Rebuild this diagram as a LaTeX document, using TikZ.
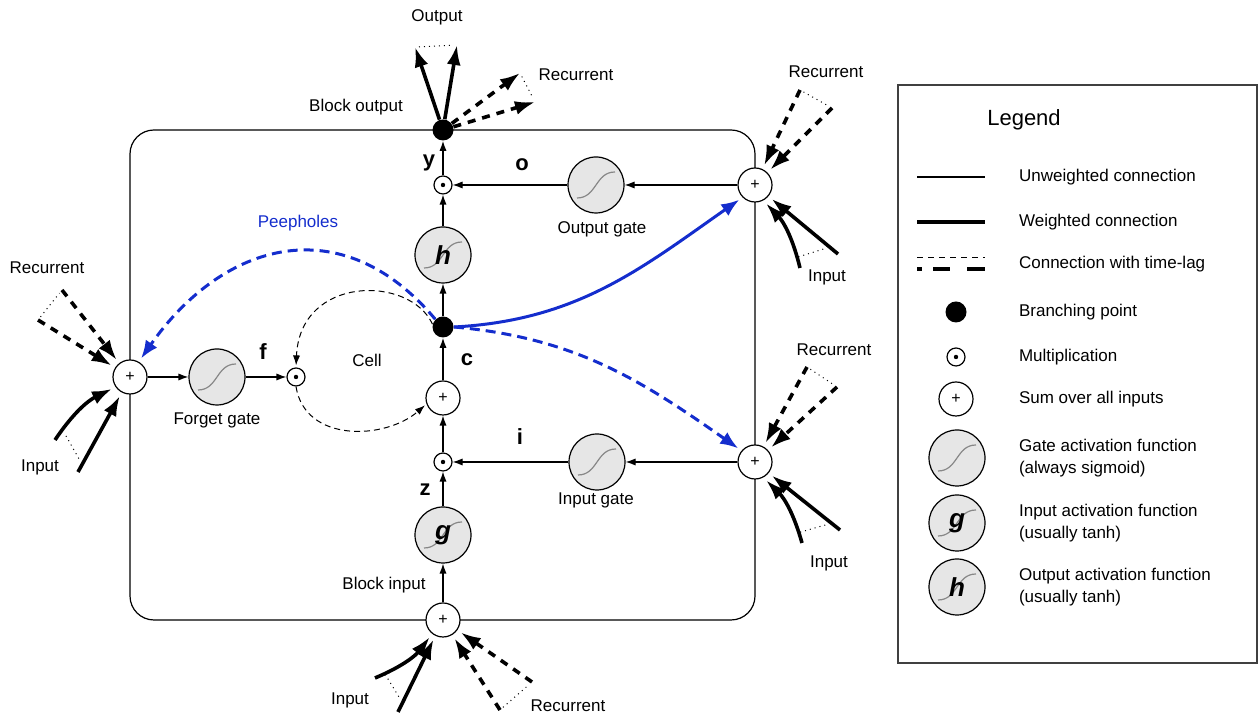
\documentclass[tikz,border=0pt]{standalone}
\usepackage{fontspec}
\setmainfont{Liberation Sans}
\usepackage{tikz}
\usetikzlibrary{arrows.meta,calc,positioning}
\definecolor{peepblue}{RGB}{20, 45, 205}
\definecolor{gatefill}{RGB}{230, 230, 230}
\definecolor{sigmagray}{RGB}{135, 135, 135}

\begin{document}
\begin{tikzpicture}[x=0.5pt, y=0.5pt, >={Latex[length=5pt,width=3.6pt]},
    txt/.style={font=\fontsize{8.5}{11}\selectfont},
    var/.style={font=\fontsize{11}{12}\selectfont\bfseries},
    sumnode/.style={circle, draw, fill=white, minimum size=17pt, inner sep=0pt, line width=0.6pt, font=\fontsize{8}{8}\selectfont},
    multnode/.style={circle, draw, fill=white, minimum size=9pt, inner sep=0pt, line width=0.6pt,
        path picture={\fill[black] (path picture bounding box.center) circle (1.1pt);}},
    branchnode/.style={circle, fill=black, minimum size=10.5pt, inner sep=0pt},
    gatenode/.style={circle, draw, fill=gatefill, minimum size=28pt, inner sep=0pt, line width=0.6pt,
        font=\fontsize{13}{13}\selectfont\bfseries\itshape,
        path picture={\draw[sigmagray, line width=0.6pt] ([shift={(-9.5pt,-6.5pt)}]path picture bounding box.center)
            .. controls +(10pt,0pt) and +(-10pt,0pt) .. ([shift={(9.5pt,6.5pt)}]path picture bounding box.center);}},
    conn/.style={->, line width=0.6pt},
    weighted/.style={-{Latex[length=10pt,width=7pt]}, line width=1.8pt, shorten >=2pt},
    recur/.style={weighted, dash pattern=on 4pt off 3.5pt},
    lagdots/.style={dotted, line width=0.5pt, shorten <=2pt, shorten >=2pt},
    cellloop/.style={->, line width=0.5pt, dash pattern=on 3pt off 2pt, shorten >=1pt},
    peep/.style={-{Latex[length=9pt,width=7pt]}, line width=1.5pt, color=peepblue, shorten >=2pt},
    peepdash/.style={peep, dash pattern=on 5pt off 3pt}]

    \useasboundingbox (0,0) rectangle (1258,715);

    % Memory block
    \draw[line width=0.6pt, rounded corners=12pt] (130,95) rectangle (755,585);

    % Central column
    \node[branchnode] (bo) at (443,585) {};
    \node[multnode] (ym) at (443,530) {};
    \node[gatenode] (hg) at (443,460) {h};
    \node[branchnode] (cb) at (443,388) {};
    \node[sumnode] (cs) at (443,317) {+};
    \node[multnode] (im) at (443,253) {};
    \node[gatenode] (gg) at (443,180) {g};
    \node[sumnode] (bs) at (443,95) {+};

    % Gates
    \node[gatenode] (og) at (596,530) {};
    \node[sumnode] (rs1) at (755,530) {+};
    \node[gatenode] (ig) at (597,253) {};
    \node[sumnode] (rs2) at (755,253) {+};
    \node[sumnode] (ls) at (130,338) {+};
    \node[gatenode] (fg) at (217,338) {};
    \node[multnode] (fm) at (296,338) {};

    % Labels
    \node[txt] (outlab) at (437,698) {Output};
    \node[txt] (bolab) at (356,608) {Block output};
    \node[txt] (recTlab) at (576,640) {Recurrent};
    \node[var] (ylab) at (429,552) {y};
    \node[var] (olab) at (522,550) {o};
    \node[txt] (oglab) at (602,486) {Output gate};
    \node[txt, text=peepblue] (peeplab) at (298,492) {Peepholes};
    \node[txt] (recLlab) at (47,447) {Recurrent};
    \node[txt] (inLlab) at (40,248) {Input};
    \node[var] (flab) at (263,363) {f};
    \node[txt] (celllab) at (367,355) {Cell};
    \node[var] (clab) at (467,355) {c};
    \node[txt] (fglab) at (217,295) {Forget gate};
    \node[var] (ilab) at (520,278) {i};
    \node[var] (zlab) at (425,225) {z};
    \node[txt] (iglab) at (596,215) {Input gate};
    \node[txt] (bilab) at (384,130) {Block input};
    \node[txt] (recR1lab) at (826,643) {Recurrent};
    \node[txt] (inR1lab) at (827,438) {Input};
    \node[txt] (recR2lab) at (834,365) {Recurrent};
    \node[txt] (inR2lab) at (829,152) {Input};
    \node[txt] (inBlab) at (350,15) {Input};
    \node[txt] (recBlab) at (568,9) {Recurrent};

    % Unweighted connections
    \draw[conn] (bs) -- (gg);
    \draw[conn] (gg) -- (im);
    \draw[conn] (im) -- (cs);
    \draw[conn] (cs) -- (cb);
    \draw[conn] (cb) -- (hg);
    \draw[conn] (hg) -- (ym);
    \draw[conn] (ym) -- (bo);
    \draw[conn] (rs1) -- (og);
    \draw[conn] (og) -- (ym);
    \draw[conn] (rs2) -- (ig);
    \draw[conn] (ig) -- (im);
    \draw[conn] (ls) -- (fg);
    \draw[conn] (fg) -- (fm);

    % Cell recurrence
    \draw[cellloop] (cb.165) .. controls (410,440) and (300,440) .. (fm.north);
    \draw[cellloop] (fm.south) .. controls (305,272) and (385,275) .. (cs.200);

    % Peepholes
    \draw[peep] (cb.east) to[out=3, in=215] (rs1.225);
    \draw[peepdash] (cb.east) to[out=-5, in=145] (rs2.140);
    \draw[peepdash] (cb.135) to[out=130, in=55, looseness=1.25] (ls.60);

    % Block output
    \coordinate (outL) at (415,668);
    \coordinate (outR) at (457,670);
    \draw[weighted, shorten >=0pt] (bo) -- (outL);
    \draw[weighted, shorten >=0pt] (bo) -- (outR);
    \draw[lagdots] (outL) -- (outR);
    \coordinate (recT1) at (520,642);
    \coordinate (recT2) at (535,613);
    \draw[recur, shorten >=0pt] (bo) -- (recT1);
    \draw[recur, shorten >=0pt] (bo) -- (recT2);
    \draw[lagdots] (recT1) -- (recT2);

    % Forget gate inputs
    \coordinate (lsR1) at (38,395);
    \coordinate (lsR2) at (62,425);
    \draw[recur] (lsR1) -- (ls.148);
    \draw[recur] (lsR2) -- (ls.128);
    \draw[lagdots] (lsR1) -- (lsR2);
    \coordinate (lsI1) at (55,275);
    \coordinate (lsI2) at (78,243);
    \draw[weighted] (lsI1) to[bend left=15] (ls.215);
    \draw[weighted] (lsI2) -- (ls.242);
    \draw[lagdots] ($(lsI1)!0.12!(ls)$) -- ($(lsI2)!0.08!(ls)$);

    % Output gate inputs
    \coordinate (r1R1) at (800,625);
    \coordinate (r1R2) at (832,607);
    \draw[recur] (r1R1) -- (rs1.65);
    \draw[recur] (r1R2) -- (rs1.45);
    \draw[lagdots] (r1R1) -- (r1R2);
    \coordinate (r1I1) at (800,447);
    \coordinate (r1I2) at (838,461);
    \draw[weighted] (r1I1) to[bend right=15] (rs1.-62);
    \draw[weighted] (r1I2) -- (rs1.-40);
    \draw[lagdots] ($(r1I1)!0.12!(rs1)$) -- ($(r1I2)!0.1!(rs1)$);

    % Input gate inputs
    \coordinate (r2R1) at (807,348);
    \coordinate (r2R2) at (837,328);
    \draw[recur] (r2R1) -- (rs2.61);
    \draw[recur] (r2R2) -- (rs2.42);
    \draw[lagdots] (r2R1) -- (r2R2);
    \coordinate (r2I1) at (802,172);
    \coordinate (r2I2) at (840,185);
    \draw[weighted] (r2I1) to[bend right=15] (rs2.-62);
    \draw[weighted] (r2I2) -- (rs2.-39);
    \draw[lagdots] ($(r2I1)!0.12!(rs2)$) -- ($(r2I2)!0.1!(rs2)$);

    % Block input
    \coordinate (bsI1) at (375,37);
    \coordinate (bsI2) at (398,3);
    \draw[weighted] (bsI1) to[bend right=15] (bs.232);
    \draw[weighted] (bsI2) -- (bs.-116);
    \draw[lagdots] ($(bsI1)!0.12!(bs)$) -- ($(bsI2)!0.1!(bs)$);
    \coordinate (bsR1) at (500,5);
    \coordinate (bsR2) at (532,33);
    \draw[recur] (bsR1) -- (bs.-58);
    \draw[recur] (bsR2) -- (bs.-35);
    \draw[lagdots] (bsR1) -- (bsR2);

    % Legend
    \draw[line width=0.6pt, black!75] (898,52) rectangle (1257,630);
    \node[font=\fontsize{11}{12}\selectfont] (leghead) at (1024,595) {Legend};
    \draw[line width=0.6pt] (917,538) -- (985,538);
    \draw[line width=1.8pt] (917,493) -- (985,493);
    \draw[line width=0.5pt, dash pattern=on 3pt off 2.5pt] (917,457) -- (985,457);
    \draw[line width=1.8pt, dash pattern=on 2.5pt off 5.5pt on 8.5pt off 8.5pt on 9pt off 10pt] (917,446) -- (985,446);
    \node[branchnode] (lbranch) at (956,403) {};
    \node[multnode] (lmult) at (956,358) {};
    \node[sumnode] (lsum) at (956,316) {+};
    \node[gatenode] (lgate) at (957,257) {};
    \node[gatenode] (lg) at (957,192) {g};
    \node[gatenode] (lh) at (957,128) {h};
    \foreach \yy/\lab [count=\i] in {538/Unweighted connection, 493/Weighted connection, 451/Connection with time-lag,
        403/Branching point, 358/Multiplication, 316/Sum over all inputs} {
        \node[txt, anchor=west] (lt\i) at (1012,\yy) {\lab};
    }
    \node[txt, anchor=west, align=left] (lt7) at (1012,257) {Gate activation function\\(always sigmoid)};
    \node[txt, anchor=west, align=left] (lt8) at (1012,192) {Input activation function\\(usually tanh)};
    \node[txt, anchor=west, align=left] (lt9) at (1012,128) {Output activation function\\(usually tanh)};
\end{tikzpicture}
\end{document}
